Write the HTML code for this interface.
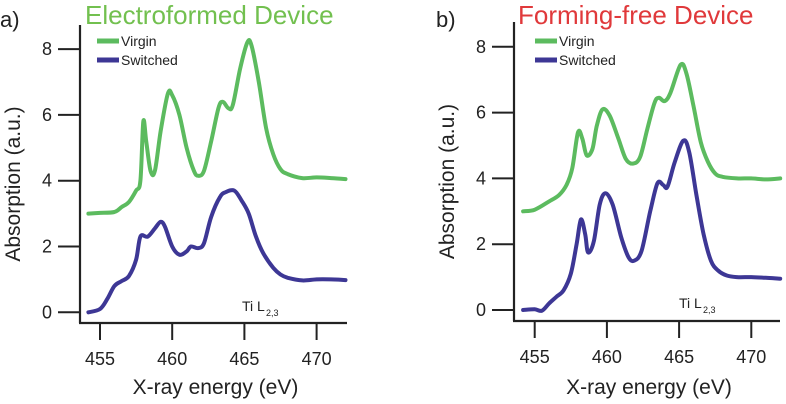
<!DOCTYPE html>
<html><head><meta charset="utf-8">
<style>
html,body{margin:0;padding:0;background:#fff;width:786px;height:404px;overflow:hidden}
svg{display:block;font-family:"Liberation Sans","DejaVu Sans",sans-serif}
</style></head>
<body>
<svg id="fig" width="786" height="404" viewBox="0 0 786 404"></svg>
<script>
const xTicks=[455,460,465,470];
const yTicks=[0,2,4,6,8];
const aVirginE=[454.2,455,456,456.5,457,457.5,457.8,458.0,458.2,458.5,458.8,459.2,459.7,460,460.5,461,461.5,461.8,462.2,462.7,463.2,463.5,463.9,464.2,464.7,465.2,465.5,466,466.5,467,467.5,468,469,470,471,472];
const aVirginY=[3.0,3.02,3.05,3.2,3.35,3.7,4.0,5.8,5.2,4.3,4.3,5.5,6.65,6.6,6.0,5.0,4.3,4.15,4.3,5.2,6.2,6.4,6.2,6.3,7.4,8.2,8.1,7.0,5.6,4.8,4.35,4.2,4.08,4.1,4.08,4.05];
const aSwitchedE=[454.2,455,455.5,456,456.5,457,457.5,457.8,458.3,458.8,459.2,459.5,460,460.5,461,461.3,461.8,462.2,462.7,463.3,463.7,464.3,464.8,465.3,465.8,466.3,467,467.5,468,469,470,471,472];
const aSwitchedY=[0.0,0.1,0.4,0.8,0.95,1.1,1.6,2.3,2.3,2.55,2.75,2.6,2.0,1.75,1.85,2.0,1.95,2.1,2.9,3.5,3.65,3.7,3.4,3.0,2.3,1.8,1.35,1.15,1.05,0.97,1.0,1.0,0.98];
const bVirginE=[454.2,455,456,456.7,457.2,457.6,458,458.3,458.6,459,459.3,459.7,460.2,460.8,461.3,461.8,462.3,462.8,463.3,463.6,464,464.4,465.1,465.5,466,466.5,467,467.5,468,469,470,471,472];
const bVirginY=[3.0,3.05,3.3,3.5,3.8,4.3,5.4,5.2,4.7,4.9,5.6,6.1,5.9,5.2,4.6,4.45,4.65,5.5,6.3,6.45,6.35,6.6,7.45,7.2,6.2,5.1,4.5,4.15,4.05,4.0,4.0,3.97,4.0];
const bSwitchedE=[454.2,455,455.5,456,456.5,457,457.5,457.9,458.2,458.5,458.7,459.1,459.5,459.9,460.4,461,461.5,461.9,462.4,463,463.5,463.9,464.2,464.7,465.3,465.7,466.2,466.7,467.2,467.7,468.3,469,470,471,472];
const bSwitchedY=[0.0,0.02,-0.02,0.2,0.4,0.6,1.1,2.0,2.75,2.3,1.75,2.1,3.2,3.55,3.2,2.2,1.6,1.5,1.8,3.0,3.85,3.8,3.75,4.5,5.15,4.8,3.5,2.3,1.5,1.2,1.05,1.0,1.0,0.98,0.95];

const NS="http://www.w3.org/2000/svg";
const svg=document.getElementById('fig');
function mk(tag,attrs,parent,text){const e=document.createElementNS(NS,tag);for(const k in attrs)e.setAttribute(k,attrs[k]);if(text!==undefined)e.textContent=text;(parent||svg).appendChild(e);return e;}
const GREEN="#5cbb5f",PURPLE="#3d3795";

function smooth(pts){
  let d='M'+pts[0][0].toFixed(1)+' '+pts[0][1].toFixed(1);
  for(let i=0;i<pts.length-1;i++){
    const p0=pts[Math.max(0,i-1)],p1=pts[i],p2=pts[i+1],p3=pts[Math.min(pts.length-1,i+2)];
    const c1x=p1[0]+(p2[0]-p0[0])/6,c1y=p1[1]+(p2[1]-p0[1])/6;
    const c2x=p2[0]-(p3[0]-p1[0])/6,c2y=p2[1]-(p3[1]-p1[1])/6;
    d+=` C${c1x.toFixed(1)} ${c1y.toFixed(1)} ${c2x.toFixed(1)} ${c2y.toFixed(1)} ${p2[0].toFixed(1)} ${p2[1].toFixed(1)}`;
  }
  return d;
}

function panel(p){
  const g=mk('g',{});
  
  
  const xs=v=>p.x0+(v-455)*p.kx;
  const ys=v=>p.y0-v*p.ky;
  const ax=mk('line',{x1:p.ax,y1:p.top,x2:p.ax,y2:p.bottom,stroke:'#222','stroke-width':2.2},g);
  
  const bx=mk('line',{x1:p.ax-1,y1:p.bottom,x2:p.right,y2:p.bottom,stroke:'#222','stroke-width':2.2},g);
  
  yTicks.forEach(t=>{
    const y=ys(t);
    const tl=mk('line',{x1:p.ax-22,y1:y,x2:p.ax,y2:y,stroke:'#222','stroke-width':2},g);
    
    const tx=mk('text',{x:p.ax-28,y:y+6,'text-anchor':'end','font-size':18,fill:'#222'},g,String(t));
    
  });
  xTicks.forEach(t=>{
    const x=xs(t);
    const tl=mk('line',{x1:x,y1:p.bottom,x2:x,y2:p.bottom+17,stroke:'#222','stroke-width':2},g);
    
    const tx=mk('text',{x:x,y:p.bottom+42,'text-anchor':'middle','font-size':18,fill:'#222'},g,String(t));
    
  });
  const xt=mk('text',{x:(p.ax+p.right)/2+2,y:394,'text-anchor':'middle','font-size':21,fill:'#222'},g,'X-ray energy (eV)');
  
  const yt=mk('text',{x:0,y:0,transform:`translate(${p.ax-60},${(p.top+p.bottom)/2+10}) rotate(-90)`,'text-anchor':'middle','font-size':21,fill:'#222'},g,'Absorption (a.u.)');
  
  [[p.sE,p.sY,PURPLE,'switched-line'],[p.vE,p.vY,GREEN,'virgin-line']].forEach(s=>{
    const pts=s[0].map((e,i)=>[xs(e),ys(s[1][i])]);
    const pa=mk('path',{d:smooth(pts),fill:'none',stroke:s[2],'stroke-width':4,'stroke-linejoin':'round','stroke-linecap':'round'},g);
    
  });
  [['Virgin',GREEN,p.ly],['Switched',PURPLE,p.ly+19]].forEach(l=>{
    const sw=mk('line',{x1:p.lx,y1:l[2],x2:p.lx+22,y2:l[2],stroke:l[1],'stroke-width':5},g);
    
    const lt=mk('text',{x:p.lx+24,y:l[2]+5,'font-size':14,fill:'#222'},g,l[0]);
    
  });
  const ti=mk('text',{x:p.tix,y:p.tiy,'font-size':14,fill:'#222'},g,'Ti L');
  
  const sub=mk('text',{x:p.tix+24,y:p.tiy+5,'font-size':9,fill:'#222'},g,'2,3');
  
  const ti1=mk('text',{x:p.titleX,y:24,'font-size':26,fill:p.titleColor},g,p.title);
  
  const lb=mk('text',{x:p.labX,y:27,'font-size':22,fill:'#222'},g,p.lab);
  
}
panel({id:'electroformed',x0:100,kx:72.2/5,y0:312.3,ky:32.9,ax:80,top:25,bottom:323,right:347,
  vE:aVirginE,vY:aVirginY,sE:aSwitchedE,sY:aSwitchedY,lx:97,ly:41,tix:242,tiy:311,
  title:'Electroformed Device',titleColor:'#72c04f',titleX:85,lab:'a)',labX:0});
panel({id:'forming-free',x0:534.7,kx:72.2/5,y0:310,ky:32.9,ax:514,top:22,bottom:321,right:780,
  vE:bVirginE,vY:bVirginY,sE:bSwitchedE,sY:bSwitchedY,lx:535,ly:41,tix:679,tiy:308,
  title:'Forming-free Device',titleColor:'#e0393b',titleX:518,lab:'b)',labX:436});
</script>
</body></html>
